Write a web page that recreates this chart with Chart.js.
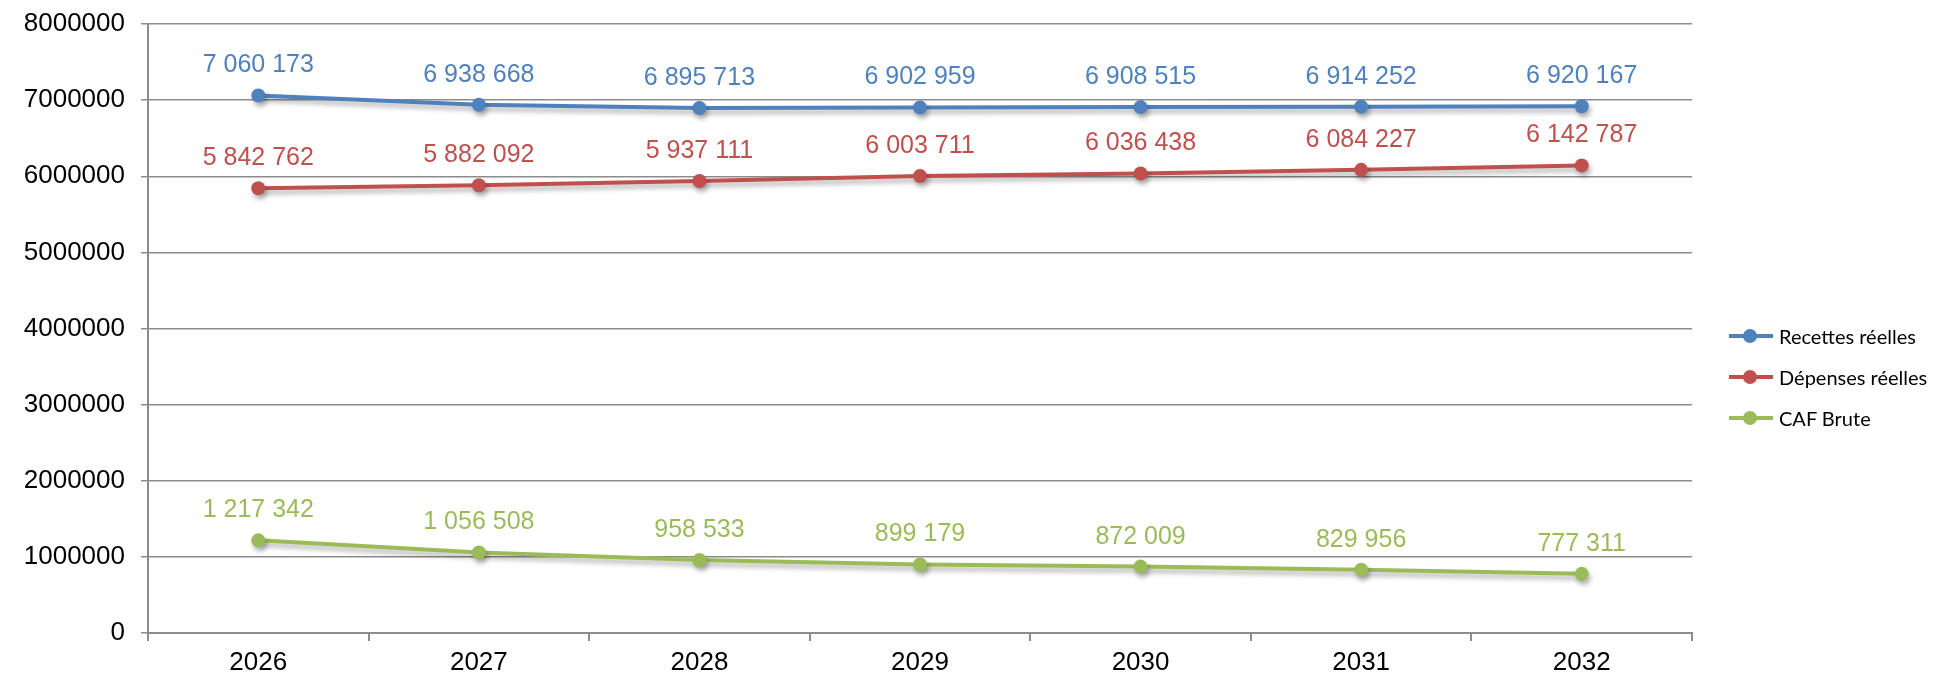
<!DOCTYPE html>
<html>
<head>
<meta charset="utf-8">
<script src="https://cdn.jsdelivr.net/npm/chart.js@4.4.1/dist/chart.umd.min.js"></script>
<style>
    body { margin: 0; background: #fff; }
    #wrap { position: relative; width: 1943px; height: 676px; }
    #legend { position: absolute; left: 1729px; top: 315px; font-family: Lato, 'Open Sans', sans-serif; font-size: 20px; color: #000; }
    .item { display: flex; align-items: center; height: 41px; }
    .sym { position: relative; width: 44px; height: 14px; margin-right: 6px; }
    .sym .ln { position: absolute; left: 0; top: 5px; width: 44px; height: 4px; }
    .sym .dot { position: absolute; left: 14px; top: 0; width: 14px; height: 14px; border-radius: 50%; }
</style>
</head>
<body>
<div id="wrap">
    <canvas id="chart" width="1943" height="676"></canvas>
    <div id="legend"></div>
</div>
<script>
const years = ['2026', '2027', '2028', '2029', '2030', '2031', '2032'];
const recettes = [7060173, 6938668, 6895713, 6902959, 6908515, 6914252, 6920167];
const depenses = [5842762, 5882092, 5937111, 6003711, 6036438, 6084227, 6142787];
const cafBrute = [1217342, 1056508, 958533, 899179, 872009, 829956, 777311];
const seriesNames = ['Recettes réelles', 'Dépenses réelles', 'CAF Brute'];
const seriesColors = ['#4F81BD', '#C0504D', '#9BBB59'];
const yTicks = [0, 1000000, 2000000, 3000000, 4000000, 5000000, 6000000, 7000000, 8000000];

const gridColor = '#8c8c8c';

// nombre avec espaces : 7 060 173
function fmt(v) {
    return String(v).replace(/\B(?=(\d{3})+(?!\d))/g, ' ');
}

// ombre sous les courbes
const shadowPlugin = {
    id: 'shadow',
    beforeDatasetDraw(chart) {
        const ctx = chart.ctx;
        ctx.save();
        ctx.shadowColor = 'rgba(0,0,0,0.3)';
        ctx.shadowBlur = 5;
        ctx.shadowOffsetX = 2;
        ctx.shadowOffsetY = 4;
    },
    afterDatasetDraw(chart) {
        chart.ctx.restore();
    }
};

// étiquettes de valeurs au-dessus des points
const labelsPlugin = {
    id: 'valueLabels',
    afterDatasetsDraw(chart) {
        const ctx = chart.ctx;
        ctx.save();
        ctx.font = '25px "Liberation Sans", Arial, sans-serif';
        ctx.textAlign = 'center';
        ctx.textBaseline = 'middle';
        chart.data.datasets.forEach((ds, i) => {
            const meta = chart.getDatasetMeta(i);
            ctx.fillStyle = ds.borderColor;
            meta.data.forEach((pt, j) => {
                ctx.fillText(fmt(ds.data[j]), pt.x, pt.y - 30);
            });
        });
        ctx.restore();
    }
};

const allSeries = [recettes, depenses, cafBrute];

new Chart(document.getElementById('chart').getContext('2d'), {
    type: 'line',
    data: {
        labels: years,
        datasets: allSeries.map((d, i) => ({
            label: seriesNames[i],
            data: d,
            borderColor: seriesColors[i],
            backgroundColor: seriesColors[i],
            borderWidth: 4,
            pointRadius: 7,
            pointBorderWidth: 0,
            pointHoverRadius: 7,
            tension: 0,
            fill: false
        }))
    },
    options: {
        responsive: false,
        animation: false,
        layout: { padding: { top: 24, right: 251, left: 0, bottom: 0 } },
        plugins: {
            legend: { display: false },
            tooltip: { enabled: false }
        },
        scales: {
            x: {
                offset: true,
                afterFit: s => { s.height = 43; },
                grid: {
                    display: true,
                    drawOnChartArea: false,
                    drawTicks: true,
                    tickLength: 8,
                    offset: true,
                    color: gridColor,
                    lineWidth: 2
                },
                border: { color: gridColor, width: 2 },
                ticks: {
                    color: '#000',
                    padding: 6,
                    font: { family: '"Liberation Sans", Arial, sans-serif', size: 26 }
                }
            },
            y: {
                min: 0,
                max: 8000000,
                afterFit: s => {
                    s.width = 148;
                    s.paddingTop = 0;
                    s.paddingBottom = 0;
                },
                afterBuildTicks: s => { s.ticks = yTicks.map(v => ({ value: v })); },
                grid: {
                    color: gridColor,
                    lineWidth: 1.5,
                    drawTicks: true,
                    tickLength: 7
                },
                border: { color: gridColor, width: 2 },
                ticks: {
                    color: '#000',
                    padding: 16,
                    callback: v => String(v),
                    font: { family: '"Liberation Sans", Arial, sans-serif', size: 26 }
                }
            }
        }
    },
    plugins: [shadowPlugin, labelsPlugin]
});

// légende à droite
const legend = document.getElementById('legend');
seriesNames.forEach((name, i) => {
    const item = document.createElement('div');
    item.className = 'item';
    item.innerHTML = '<div class="sym"><div class="ln" style="background:' + seriesColors[i] + '"></div>' +
        '<div class="dot" style="background:' + seriesColors[i] + '"></div></div><span>' + name + '</span>';
    legend.appendChild(item);
});
</script>
</body>
</html>
